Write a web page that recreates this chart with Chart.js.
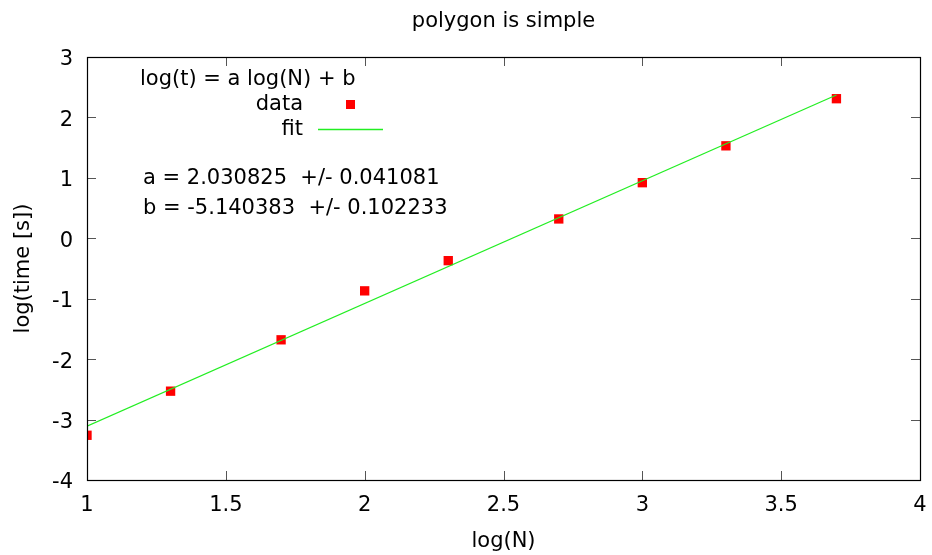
<!DOCTYPE html>
<html>
<head>
<meta charset="utf-8">
<script src="https://cdn.jsdelivr.net/npm/chart.js@4/dist/chart.umd.min.js"></script>
<style>
html,body{margin:0;padding:0;background:#fff;}
#wrap{width:932px;height:555px;}
</style>
</head>
<body>
<div id="wrap"><canvas id="c" width="932" height="555"></canvas></div>
<script>
// Data
const logN = [1.0, 1.301, 1.699, 2.0, 2.301, 2.699, 3.0, 3.301, 3.699];
const logTime = [-3.26, -2.53, -1.68, -0.87, -0.37, 0.32, 0.92, 1.53, 2.31];
const fitX = [1.0, 3.699];
const fitY = [-3.11, 2.37];
const xTicks = [1, 1.5, 2, 2.5, 3, 3.5, 4];
const yTicks = [-4, -3, -2, -1, 0, 1, 2, 3];
const titleText = 'polygon is simple';
const xTitle = 'log(N)';
const yTitle = 'log(time [s])';
const legendTitle = 'log(t) = a log(N) + b';
const seriesNames = ['data', 'fit'];
const fitLines = ['a = 2.030825  +/- 0.041081', 'b = -5.140383  +/- 0.102233'];

const FONT = '"DejaVu Sans", sans-serif';

const decor = {
  id: 'decor',
  afterDraw(chart) {
    const ctx = chart.ctx;
    const a = chart.chartArea;
    const xs = chart.scales.x, ys = chart.scales.y;
    ctx.save();
    // inward ticks on all four sides
    ctx.strokeStyle = '#555';
    ctx.lineWidth = 1;
    const L = 9;
    ctx.beginPath();
    xTicks.forEach(v => {
      const px = Math.round(xs.getPixelForValue(v)) + 0.5;
      ctx.moveTo(px, a.bottom); ctx.lineTo(px, a.bottom - L);
      ctx.moveTo(px, a.top); ctx.lineTo(px, a.top + L);
    });
    yTicks.forEach(v => {
      const py = Math.round(ys.getPixelForValue(v)) + 0.5;
      ctx.moveTo(a.left, py); ctx.lineTo(a.left + L, py);
      ctx.moveTo(a.right, py); ctx.lineTo(a.right - L, py);
    });
    ctx.stroke();
    // frame
    ctx.strokeStyle = '#000';
    ctx.lineWidth = 1.2;
    ctx.strokeRect(Math.round(a.left) + 0.5, Math.round(a.top) + 0.5,
                   Math.round(a.right - a.left), Math.round(a.bottom - a.top));
    // title
    ctx.fillStyle = '#000';
    ctx.font = '21px ' + FONT;
    ctx.textBaseline = 'middle';
    ctx.textAlign = 'center';
    ctx.fillText(titleText, (a.left + a.right) / 2, 22);
    // legend block
    ctx.textAlign = 'left';
    ctx.fillText(legendTitle, 140, 80);
    ctx.textAlign = 'right';
    ctx.fillText(seriesNames[0], 303, 105);
    ctx.fillText(seriesNames[1], 303, 130);
    ctx.fillStyle = '#ff0000';
    ctx.fillRect(346, 100, 9, 9);
    ctx.strokeStyle = '#22ee22';
    ctx.lineWidth = 1.5;
    ctx.beginPath();
    ctx.moveTo(318, 129.5); ctx.lineTo(383, 129.5);
    ctx.stroke();
    ctx.fillStyle = '#000';
    ctx.textAlign = 'left';
    ctx.fillText(fitLines[0], 143, 179);
    ctx.fillText(fitLines[1], 143, 209);
    ctx.restore();
  }
};

new Chart(document.getElementById('c'), {
  data: {
    datasets: [
      {
        type: 'scatter',
        label: seriesNames[0],
        data: logN.map((x, i) => ({x: x, y: logTime[i]})),
        pointStyle: 'rect',
        pointRadius: 6.6,
        pointHoverRadius: 6.6,
        backgroundColor: '#ff0000',
        borderColor: '#ff0000',
        borderWidth: 0,
        order: 2
      },
      {
        type: 'line',
        label: seriesNames[1],
        data: fitX.map((x, i) => ({x: x, y: fitY[i]})),
        borderColor: '#22ee22',
        borderWidth: 1.2,
        pointRadius: 0,
        fill: false,
        order: 1
      }
    ]
  },
  options: {
    responsive: false,
    animation: false,
    devicePixelRatio: 1,
    layout: {padding: {top: 57, right: 12, left: 0, bottom: 0}},
    plugins: {legend: {display: false}, title: {display: false}, tooltip: {enabled: false}},
    scales: {
      x: {
        type: 'linear',
        min: 1, max: 4,
        afterBuildTicks: s => { s.ticks = xTicks.map(v => ({value: v})); },
        afterFit: s => { s.height = 75; s.paddingRight = 0; s.paddingLeft = 0; },
        grid: {display: false, drawTicks: false},
        border: {display: false},
        ticks: {
          color: '#000', padding: 13, maxRotation: 0,
          font: {family: FONT, size: 21},
          callback: v => String(v)
        },
        title: {display: true, text: xTitle, color: '#000', font: {family: FONT, size: 21}, padding: {top: 0, bottom: 1}}
      },
      y: {
        type: 'linear',
        min: -4, max: 3,
        afterBuildTicks: s => { s.ticks = yTicks.map(v => ({value: v})); },
        afterFit: s => { s.width = 87; s.paddingTop = 0; s.paddingBottom = 0; },
        grid: {display: false, drawTicks: false},
        border: {display: false},
        ticks: {
          color: '#000', padding: 14, labelOffset: 3,
          font: {family: FONT, size: 21},
          callback: v => String(v)
        },
        title: {display: true, text: yTitle, color: '#000', font: {family: FONT, size: 21}, padding: {top: 11, bottom: 0}}
      }
    }
  },
  plugins: [decor]
});
</script>
</body>
</html>
